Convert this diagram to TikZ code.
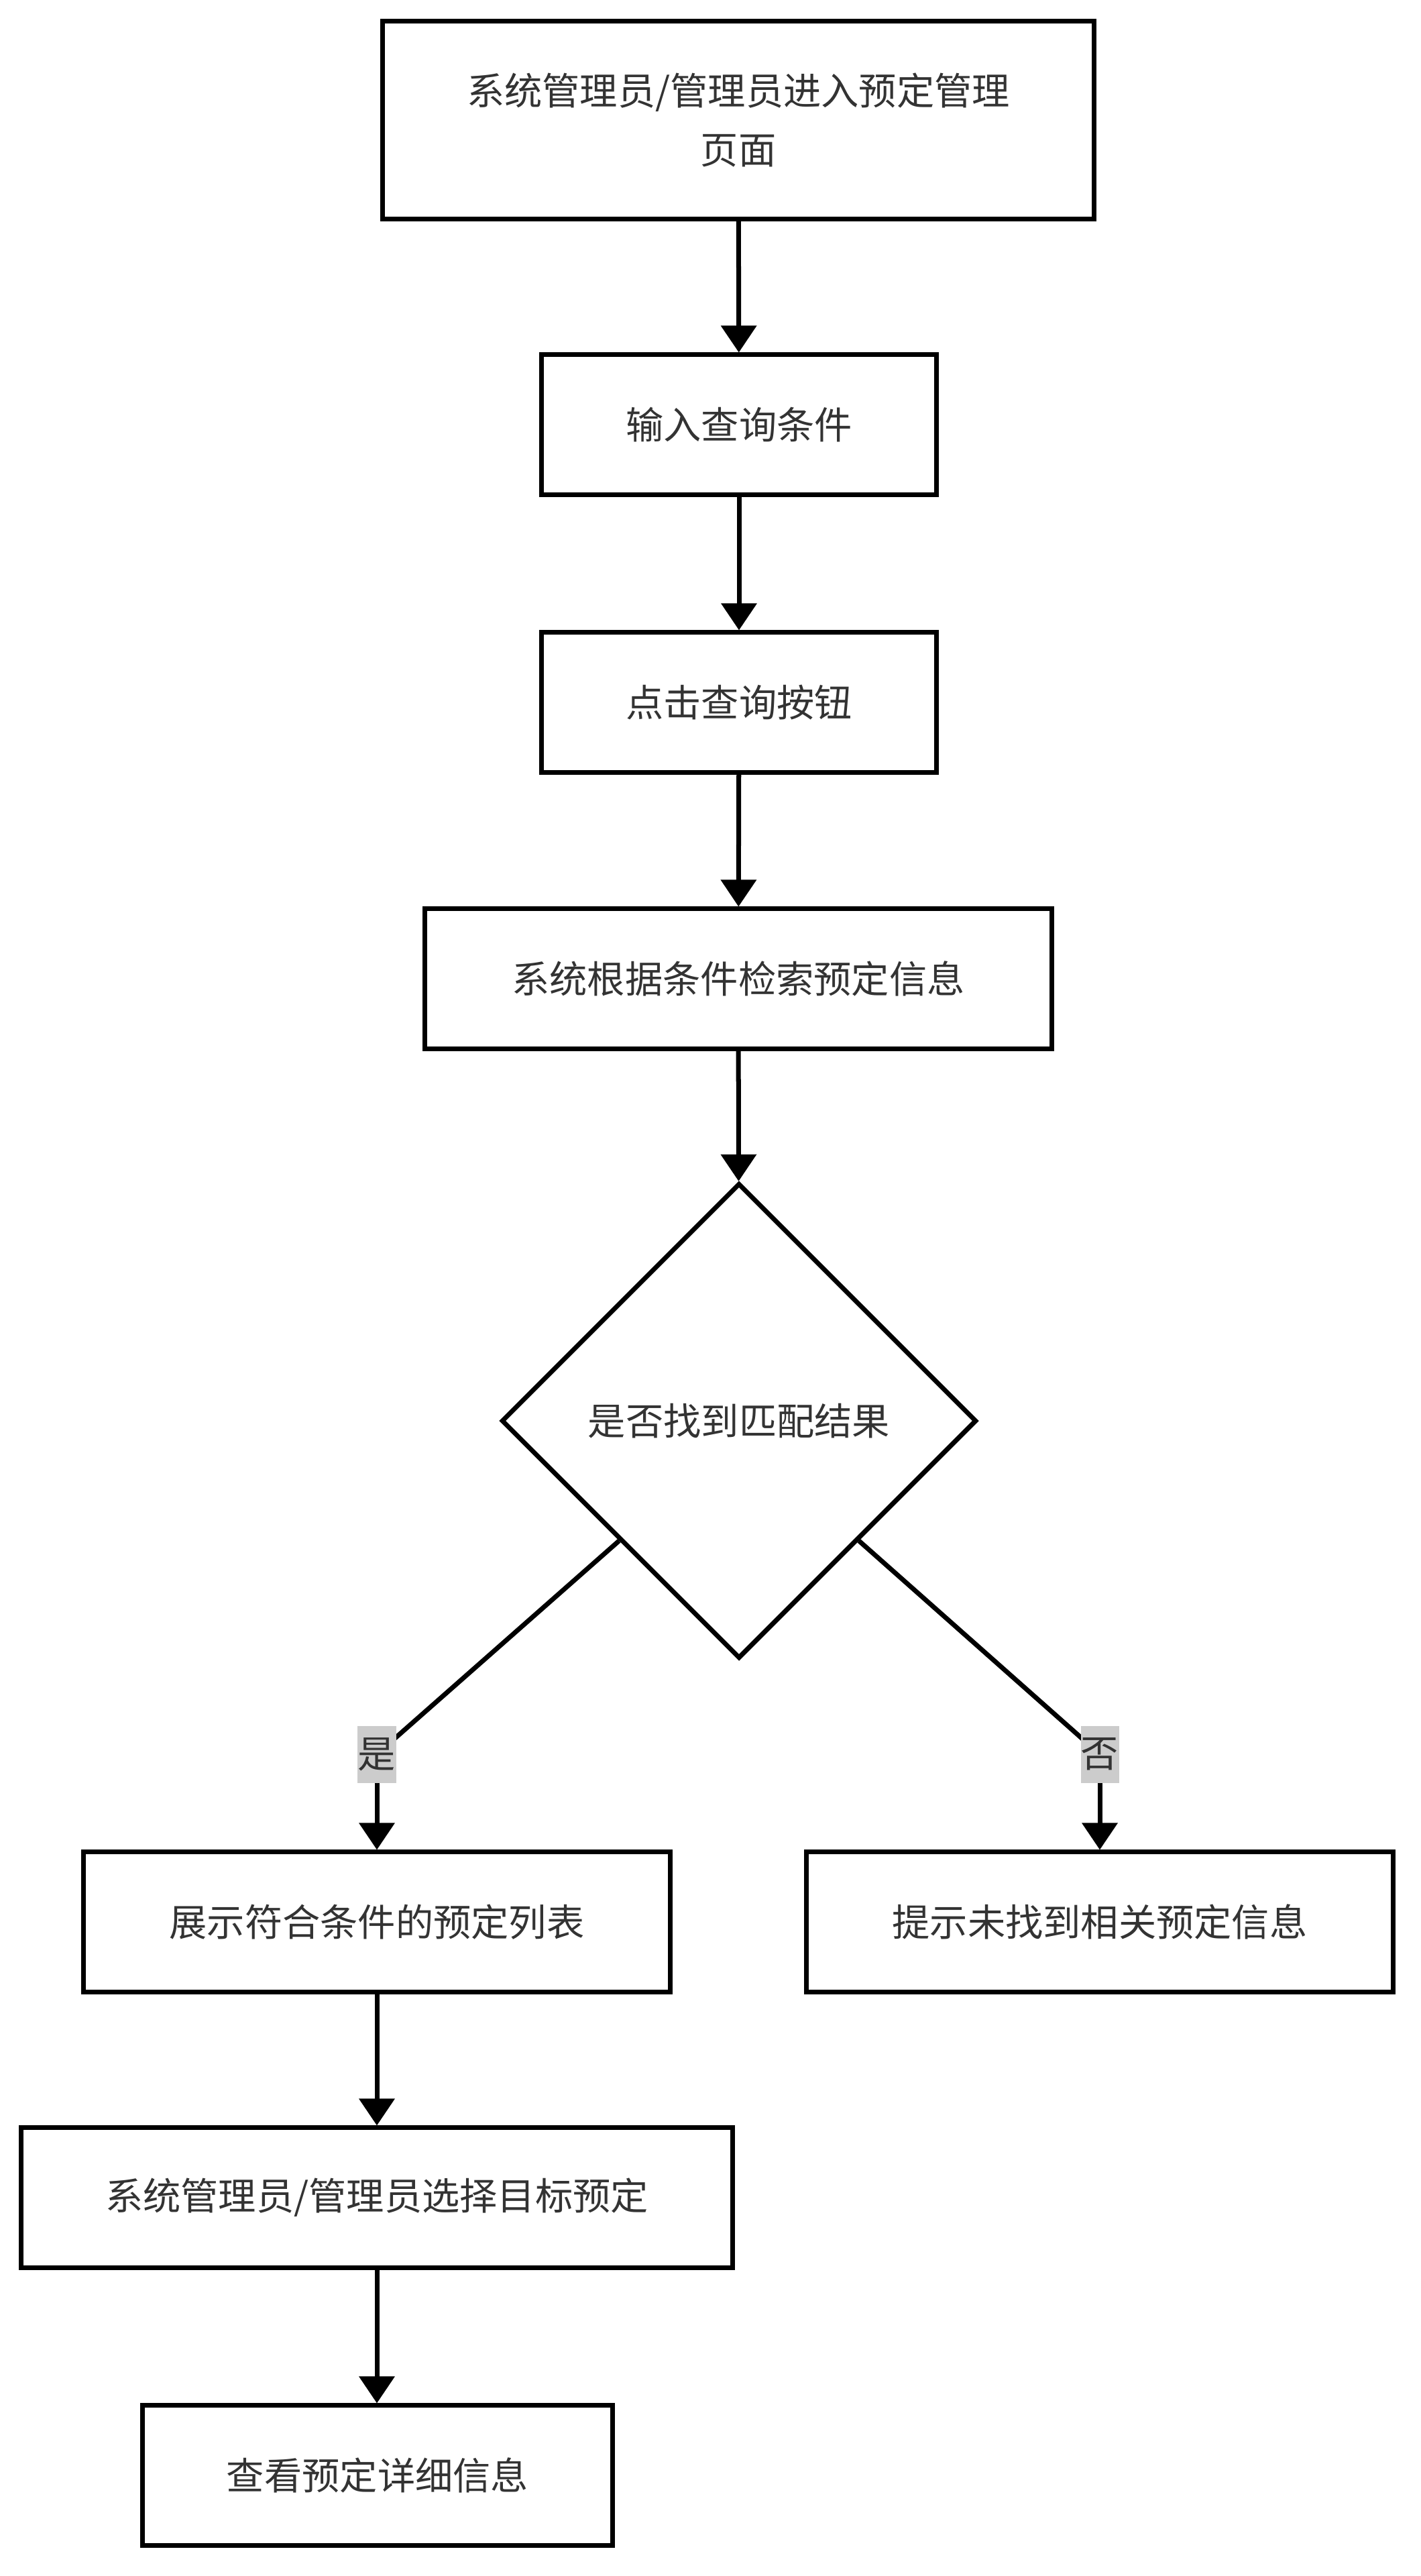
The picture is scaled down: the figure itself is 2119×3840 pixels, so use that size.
\documentclass[tikz,border=0pt]{standalone}
\usepackage{fontspec}
\setmainfont{Noto Sans CJK SC}
\usetikzlibrary{shapes.geometric,arrows.meta,positioning}
\definecolor{txtgray}{HTML}{333333}
\definecolor{lblgray}{HTML}{CCCCCC}
\tikzset{
  stepbox/.style={draw=black, line width=0.07cm, fill=white, text=txtgray,
    minimum height=2.08cm, inner sep=0pt, align=center,
    font=\fontsize{16pt}{25pt}\selectfont},
  decision/.style={diamond, aspect=1, draw=black, line width=0.07cm, fill=white,
    text=txtgray, minimum width=7.08cm, minimum height=7.08cm, inner sep=0pt,
    font=\fontsize{16pt}{25pt}\selectfont},
  answer/.style={fill=lblgray, text=txtgray, minimum width=0.57cm,
    minimum height=0.85cm, inner sep=0pt, font=\fontsize{16pt}{20pt}\selectfont},
  flow/.style={draw=black, line width=0.07cm, -{Triangle[length=0.4cm,width=0.52cm]}}
}
\begin{document}
\begin{tikzpicture}[x=0.01cm,y=-0.01cm]
\useasboundingbox (0,0) rectangle (2119,3840);

% Steps down the middle
\node [stepbox, minimum width=10.6cm, minimum height=2.94cm] (enter) at (1101,179) {系统管理员/管理员进入预定管理\\页面};
\node [stepbox, minimum width=5.88cm] (input) at (1102,633) {输入查询条件};
\node [stepbox, minimum width=5.88cm] (click) at (1102,1047) {点击查询按钮};
\node [stepbox, minimum width=9.34cm] (search) at (1101,1459) {系统根据条件检索预定信息};

% The question
\node [decision] (check) at (1102,2118) {是否找到匹配结果};

% The two outcomes and what follows the first
\node [stepbox, minimum width=8.74cm] (list) at (562,2865) {展示符合条件的预定列表};
\node [stepbox, minimum width=8.74cm] (none) at (1640,2865) {提示未找到相关预定信息};
\node [stepbox, minimum width=10.61cm] (select) at (562,3276) {系统管理员/管理员选择目标预定};
\node [stepbox, minimum width=7.01cm] (detail) at (563,3690) {查看预定详细信息};

% Straight arrows
\draw [flow] (enter) -- (input);
\draw [flow] (input) -- (click);
\draw [flow] (click) -- (search);
\draw [flow] (search) -- (check);
\draw [flow] (list) -- (select);
\draw [flow] (select.south) -- (select.south |- detail.north);

% Branches, with the answer put over the bend
\coordinate (yespt) at (562,2615);
\coordinate (nopt) at (1640,2615);
\draw [line width=0.07cm] (check.south west) -- (yespt);
\draw [line width=0.07cm] (check.south east) -- (nopt);
\node [answer] (yes) at (yespt) {是};
\node [answer] (no) at (nopt) {否};
\draw [flow] (yes) -- (list);
\draw [flow] (no) -- (none);
\end{tikzpicture}
\end{document}
